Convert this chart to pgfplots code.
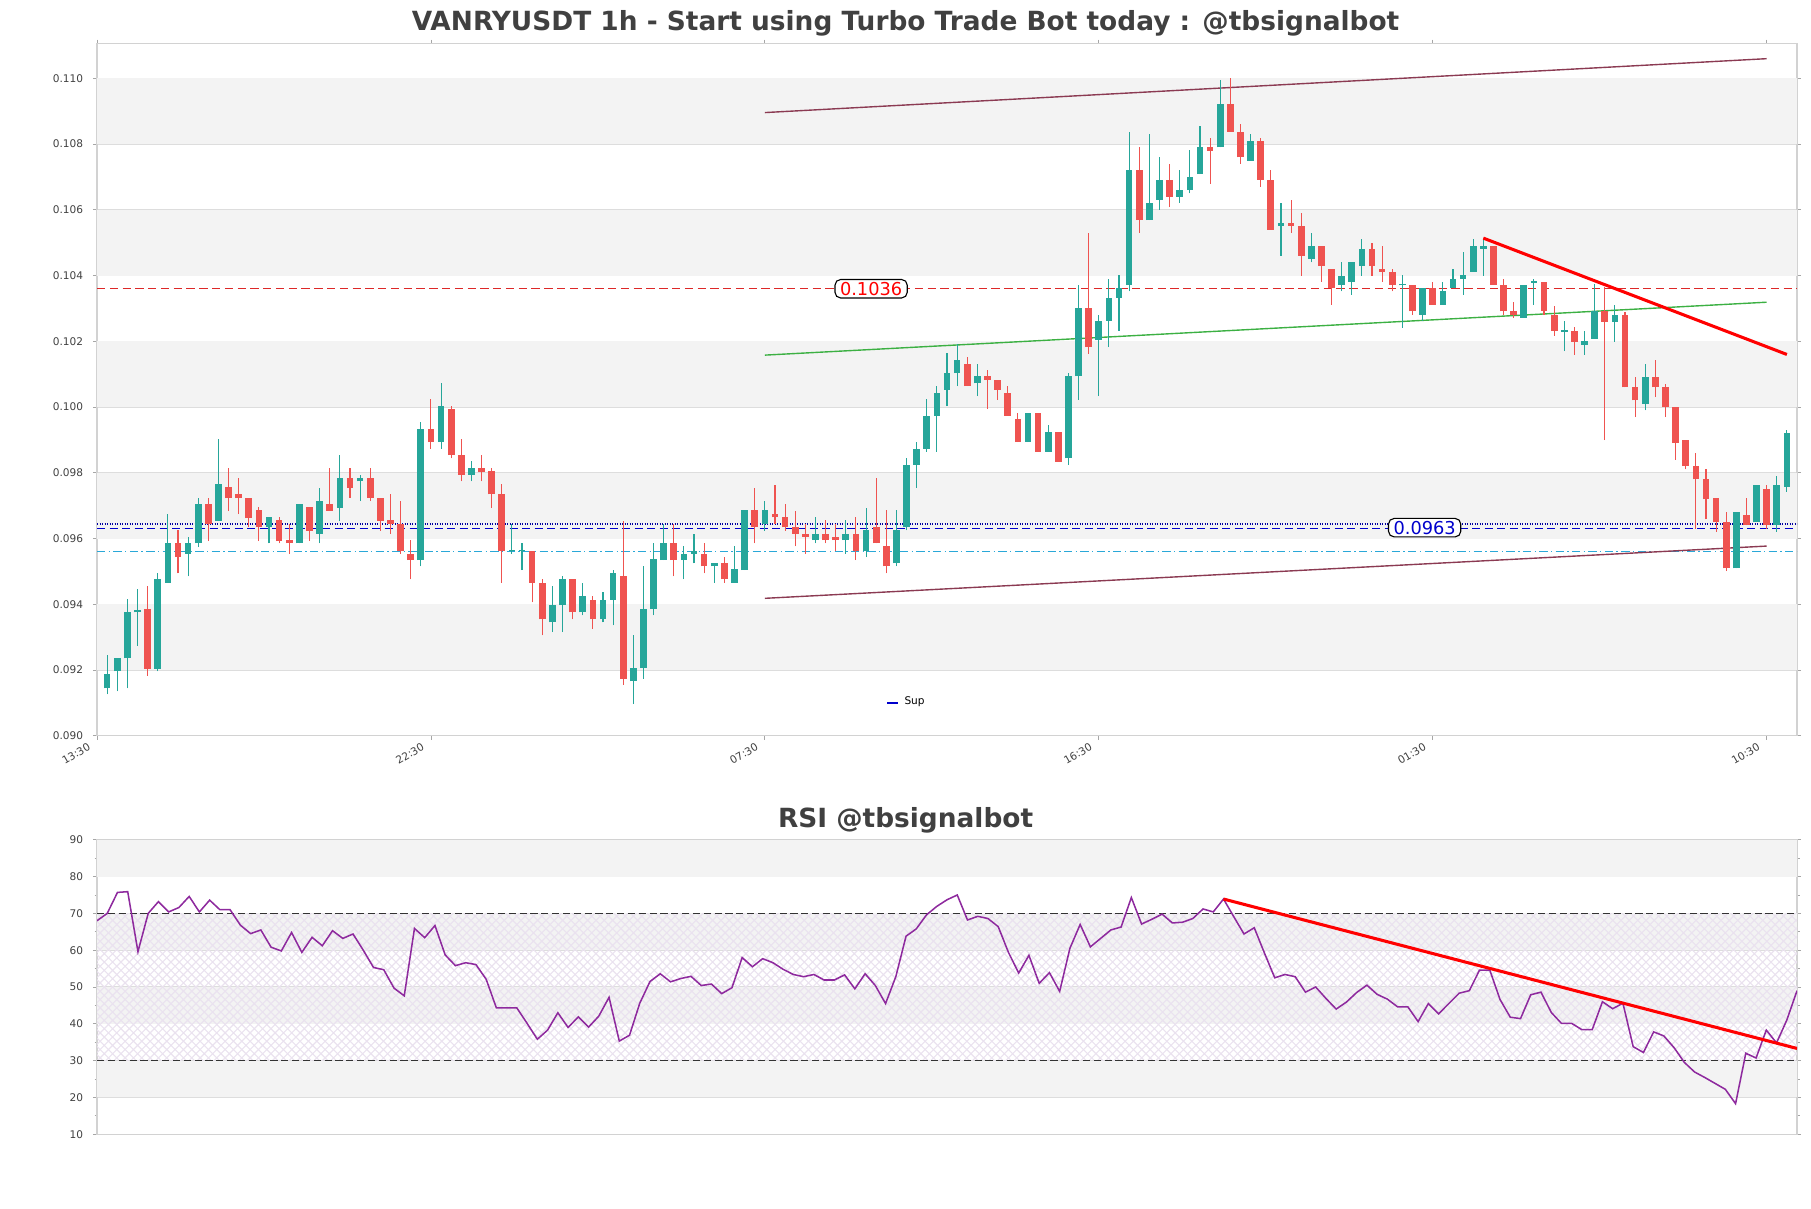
\documentclass[border=0pt]{standalone}
\usepackage{fontspec}
\setmainfont{DejaVu Sans}
\usepackage{pgfplots}
\pgfplotsset{compat=1.18}
\usepackage{pgfplotstable}
\usetikzlibrary{patterns}
\definecolor{cgreen}{HTML}{26A69A}
\definecolor{cred}{HTML}{EF5350}
\definecolor{band}{HTML}{F3F3F3}
\definecolor{gridc}{HTML}{DDDDDD}
\definecolor{titlec}{HTML}{404040}
\definecolor{chan}{HTML}{8B3A52}
\definecolor{gline}{HTML}{3CB043}
\definecolor{rsic}{HTML}{8E2A9E}
\definecolor{hatchc}{HTML}{EAE2EF}
\definecolor{supblue}{HTML}{0000CC}
\definecolor{cyanl}{HTML}{2AA8D8}
\definecolor{hred}{HTML}{DD2828}

\pgfplotstableread{
i O H L C
1 0.09144 0.09245 0.09126 0.09187
2 0.09196 0.09236 0.09135 0.09236
3 0.09235 0.09416 0.09144 0.09375
4 0.09375 0.09446 0.09274 0.09384
6 0.09204 0.09494 0.09196 0.09476
7 0.09465 0.09675 0.09465 0.09586
9 0.09553 0.09605 0.09485 0.09586
10 0.09585 0.09724 0.09574 0.09704
12 0.09653 0.09903 0.09653 0.09766
17 0.09634 0.09664 0.09585 0.09664
20 0.09585 0.09704 0.09585 0.09704
22 0.09614 0.09754 0.09585 0.09715
24 0.09693 0.09854 0.09653 0.09785
26 0.09774 0.09794 0.09714 0.09785
32 0.09534 0.09955 0.09515 0.09934
34 0.09893 0.10072 0.09873 0.10003
37 0.09794 0.09835 0.09774 0.09815
41 0.09563 0.09644 0.09553 0.09566
42 0.09563 0.09586 0.09504 0.09566
45 0.09345 0.09455 0.09315 0.09397
46 0.09397 0.09485 0.09315 0.09476
48 0.09375 0.09465 0.09366 0.09424
50 0.09354 0.09436 0.09345 0.09414
51 0.09414 0.09504 0.09336 0.09494
53 0.09165 0.09305 0.09096 0.09206
54 0.09206 0.09515 0.09174 0.09385
55 0.09385 0.09586 0.09366 0.09537
56 0.09534 0.09644 0.09534 0.09586
58 0.09534 0.09576 0.09476 0.09553
59 0.09553 0.09614 0.09524 0.09563
61 0.09515 0.09524 0.09465 0.09524
63 0.09465 0.09576 0.09465 0.09507
64 0.09504 0.09686 0.09504 0.09686
66 0.09644 0.09714 0.09623 0.09686
71 0.09595 0.09664 0.09585 0.09614
74 0.09595 0.09655 0.09553 0.09614
76 0.09563 0.09693 0.09543 0.09625
79 0.09524 0.09686 0.09515 0.09625
80 0.09634 0.09844 0.09625 0.09824
81 0.09824 0.09894 0.09754 0.09873
82 0.09873 0.10025 0.09864 0.09973
83 0.09973 0.10064 0.09864 0.10042
84 0.10052 0.10165 0.10003 0.10103
85 0.10103 0.10193 0.10064 0.10143
87 0.10072 0.10132 0.10033 0.10094
92 0.09893 0.09983 0.09893 0.09983
94 0.09864 0.09945 0.09864 0.09924
96 0.09844 0.10103 0.09824 0.10094
97 0.10094 0.10372 0.10022 0.10302
99 0.10204 0.10281 0.10033 0.10263
100 0.10263 0.10391 0.10182 0.10333
101 0.10333 0.10402 0.10232 0.10362
102 0.10372 0.10838 0.10352 0.10722
104 0.10569 0.10830 0.10569 0.10621
105 0.10631 0.10760 0.10600 0.10691
107 0.10640 0.10722 0.10621 0.10661
108 0.10661 0.10782 0.10650 0.10700
109 0.10709 0.10854 0.10709 0.10790
111 0.10790 0.10994 0.10790 0.10922
114 0.10750 0.10830 0.10750 0.10810
117 0.10551 0.10621 0.10460 0.10561
120 0.10450 0.10530 0.10440 0.10491
123 0.10372 0.10440 0.10352 0.10400
124 0.10381 0.10440 0.10342 0.10440
125 0.10429 0.10510 0.10400 0.10481
129 0.10370 0.10402 0.10242 0.10374
131 0.10281 0.10362 0.10263 0.10362
133 0.10311 0.10381 0.10311 0.10352
134 0.10362 0.10421 0.10362 0.10391
135 0.10391 0.10472 0.10342 0.10402
136 0.10411 0.10510 0.10411 0.10491
137 0.10481 0.10510 0.10400 0.10491
141 0.10272 0.10372 0.10272 0.10372
142 0.10378 0.10391 0.10311 0.10384
145 0.10228 0.10262 0.10170 0.10234
147 0.10190 0.10231 0.10159 0.10202
148 0.10208 0.10373 0.10208 0.10292
150 0.10260 0.10311 0.10199 0.10281
153 0.10009 0.10131 0.09990 0.10092
162 0.09509 0.09681 0.09509 0.09681
164 0.09650 0.09762 0.09650 0.09762
166 0.09640 0.09790 0.09620 0.09762
167 0.09758 0.09931 0.09742 0.09921
}\greencandles

\pgfplotstableread{
i O H L C
5 0.09385 0.09455 0.09183 0.09204
8 0.09586 0.09625 0.09494 0.09543
11 0.09704 0.09724 0.09592 0.09644
13 0.09756 0.09815 0.09683 0.09723
14 0.09734 0.09785 0.09674 0.09723
15 0.09724 0.09724 0.09634 0.09662
16 0.09686 0.09695 0.09592 0.09634
18 0.09655 0.09664 0.09585 0.09592
19 0.09595 0.09644 0.09553 0.09585
21 0.09695 0.09695 0.09592 0.09623
23 0.09704 0.09815 0.09684 0.09684
25 0.09785 0.09815 0.09724 0.09754
27 0.09785 0.09815 0.09714 0.09724
28 0.09724 0.09724 0.09623 0.09653
29 0.09655 0.09735 0.09614 0.09644
30 0.09644 0.09714 0.09553 0.09563
31 0.09553 0.09595 0.09476 0.09534
33 0.09934 0.10025 0.09873 0.09893
35 0.09994 0.10003 0.09844 0.09854
36 0.09854 0.09903 0.09774 0.09794
38 0.09815 0.09854 0.09774 0.09802
39 0.09805 0.09815 0.09693 0.09734
40 0.09734 0.09766 0.09465 0.09563
43 0.09563 0.09563 0.09406 0.09465
44 0.09465 0.09476 0.09305 0.09354
47 0.09476 0.09476 0.09354 0.09375
49 0.09414 0.09424 0.09326 0.09354
52 0.09485 0.09653 0.09155 0.09174
57 0.09586 0.09644 0.09485 0.09534
60 0.09553 0.09586 0.09494 0.09515
62 0.09524 0.09543 0.09465 0.09476
65 0.09686 0.09754 0.09585 0.09634
67 0.09675 0.09763 0.09644 0.09664
68 0.09664 0.09704 0.09623 0.09634
69 0.09634 0.09684 0.09576 0.09614
70 0.09614 0.09644 0.09553 0.09605
72 0.09614 0.09655 0.09585 0.09595
73 0.09605 0.09644 0.09563 0.09595
75 0.09614 0.09664 0.09534 0.09563
77 0.09634 0.09785 0.09585 0.09585
78 0.09576 0.09686 0.09494 0.09515
86 0.10132 0.10152 0.10064 0.10064
88 0.10094 0.10112 0.09994 0.10083
89 0.10081 0.10081 0.10022 0.10053
90 0.10042 0.10064 0.09973 0.09973
91 0.09963 0.09983 0.09893 0.09893
93 0.09983 0.09983 0.09864 0.09864
95 0.09924 0.09924 0.09833 0.09833
98 0.10302 0.10531 0.10162 0.10182
103 0.10722 0.10790 0.10530 0.10569
106 0.10691 0.10740 0.10610 0.10640
110 0.10790 0.10820 0.10680 0.10780
112 0.10922 0.11000 0.10838 0.10838
113 0.10838 0.10860 0.10740 0.10760
115 0.10810 0.10820 0.10670 0.10691
116 0.10691 0.10720 0.10540 0.10540
118 0.10561 0.10631 0.10530 0.10551
119 0.10551 0.10591 0.10400 0.10460
121 0.10491 0.10491 0.10381 0.10429
122 0.10421 0.10421 0.10311 0.10362
126 0.10481 0.10500 0.10400 0.10429
127 0.10421 0.10491 0.10381 0.10411
128 0.10411 0.10421 0.10352 0.10372
130 0.10372 0.10372 0.10281 0.10291
132 0.10362 0.10381 0.10311 0.10311
138 0.10491 0.10491 0.10372 0.10372
139 0.10372 0.10391 0.10281 0.10291
140 0.10291 0.10321 0.10272 0.10281
143 0.10381 0.10381 0.10281 0.10291
144 0.10281 0.10308 0.10217 0.10231
146 0.10231 0.10244 0.10159 0.10199
149 0.10292 0.10366 0.09899 0.10260
151 0.10281 0.10289 0.10060 0.10060
152 0.10060 0.10092 0.09969 0.10020
154 0.10092 0.10142 0.10030 0.10060
155 0.10060 0.10070 0.09969 0.09999
156 0.09999 0.09999 0.09840 0.09890
157 0.09901 0.09901 0.09810 0.09820
158 0.09820 0.09860 0.09630 0.09780
159 0.09780 0.09810 0.09658 0.09719
160 0.09722 0.09722 0.09620 0.09650
161 0.09650 0.09681 0.09501 0.09509
163 0.09672 0.09722 0.09640 0.09640
165 0.09752 0.09762 0.09630 0.09640
}\redcandles

\pgfplotstableread{
i r
0 68.0
1 70.0
2 75.7
3 75.9
4 59.6
5 70.0
6 73.2
7 70.4
8 71.6
9 74.6
10 70.4
11 73.6
12 71.0
13 71.0
14 66.8
15 64.5
16 65.5
17 60.8
18 59.8
19 64.8
20 59.4
21 63.5
22 61.2
23 65.3
24 63.2
25 64.4
26 60.0
27 55.3
28 54.7
29 49.7
30 47.6
31 65.9
32 63.4
33 66.7
34 58.7
35 55.8
36 56.6
37 56.1
38 52.1
39 44.3
40 44.3
41 44.3
42 40.1
43 35.8
44 38.3
45 43.0
46 39.0
47 41.9
48 39.1
49 42.1
50 47.2
51 35.3
52 36.9
53 45.6
54 51.5
55 53.6
56 51.4
57 52.3
58 52.9
59 50.4
60 50.8
61 48.2
62 49.8
63 58.0
64 55.5
65 57.7
66 56.6
67 54.8
68 53.4
69 52.8
70 53.4
71 51.9
72 51.9
73 53.3
74 49.5
75 53.6
76 50.4
77 45.5
78 52.8
79 63.8
80 65.8
81 69.6
82 71.9
83 73.7
84 75.0
85 68.2
86 69.2
87 68.6
88 66.4
89 59.4
90 53.8
91 58.6
92 51.0
93 53.9
94 48.8
95 60.5
96 67.0
97 60.9
98 63.2
99 65.5
100 66.3
101 74.3
102 67.1
103 68.4
104 69.8
105 67.4
106 67.6
107 68.6
108 71.2
109 70.4
110 73.9
111 69.1
112 64.4
113 66.1
114 59.2
115 52.5
116 53.4
117 52.8
118 48.6
119 50.0
120 46.9
121 44.0
122 45.9
123 48.5
124 50.5
125 48.0
126 46.7
127 44.6
128 44.6
129 40.6
130 45.5
131 42.7
132 45.5
133 48.3
134 49.0
135 54.6
136 54.6
137 46.6
138 41.8
139 41.4
140 47.9
141 48.6
142 43.1
143 40.1
144 40.1
145 38.4
146 38.4
147 46.0
148 44.1
149 45.6
150 33.8
151 32.2
152 37.8
153 36.7
154 33.5
155 29.5
156 26.9
157 25.4
158 23.8
159 22.2
160 18.3
161 32.0
162 30.7
163 38.3
164 34.8
165 41.0
166 49.0
}\rsidata

\newcommand{\tickfont}{\fontsize{3.8}{4.5}\selectfont}

\begin{document}
\begin{tikzpicture}
\useasboundingbox (0,0) rectangle (651.96pt,434.88pt);

\node[font=\fontsize{9.5}{11}\selectfont\bfseries, text=titlec] at (326pt,426.6pt) {VANRYUSDT 1h - Start using Turbo Trade Bot today : @tbsignalbot};
\node[font=\fontsize{9.5}{11}\selectfont\bfseries, text=titlec] at (326pt,139.6pt) {RSI @tbsignalbot};

% ---------------- main candlestick axis ----------------
\begin{axis}[
  at={(34.92pt,170.03pt)}, anchor=south west,
  width=612pt, height=249.05pt, scale only axis,
  xmin=0, xmax=168, ymin=0.090, ymax=0.11105,
  xtick={0,33,66,99,132,165},
  xticklabels={13:30,22:30,07:30,16:30,01:30,10:30},
  ytick={0.090,0.092,0.094,0.096,0.098,0.100,0.102,0.104,0.106,0.108,0.110},
  scaled y ticks=false,
  y tick label style={/pgf/number format/.cd, fixed, fixed zerofill, precision=3, assume math mode=true},
  ticklabel style={font=\tickfont, text=black!75},
  xticklabel style={rotate=30, anchor=east, yshift=-0.5pt},
  tick align=outside, major tick length=1.5pt,
  tick style={draw=gray!70, line width=0.3pt},
  axis line style={draw=gray!35, line width=0.4pt},
  ymajorgrids, grid style={draw=gridc, line width=0.4pt},
  legend style={at={(0.459,0.022)}, anchor=south west, draw=none, fill=none, font=\tickfont},
  legend image code/.code={\draw[#1, solid, line width=0.6pt] (0pt,0pt) -- (4pt,0pt);},
  candle/.style={forget plot, draw=none, no markers, error bars/.cd, y dir=plus, y explicit, error mark=none},
]
\fill[band] (axis cs:0,0.108) rectangle (axis cs:168,0.110);
\fill[band] (axis cs:0,0.104) rectangle (axis cs:168,0.106);
\fill[band] (axis cs:0,0.100) rectangle (axis cs:168,0.102);
\fill[band] (axis cs:0,0.096) rectangle (axis cs:168,0.098);
\fill[band] (axis cs:0,0.092) rectangle (axis cs:168,0.094);

% horizontal levels
\addplot[forget plot, hred, line width=0.5pt, dash pattern=on 3pt off 1.6pt] coordinates {(0,0.1036) (168,0.1036)};
\addplot[forget plot, cyanl, line width=0.45pt, dash pattern=on 3pt off 1.2pt on 0.5pt off 1.2pt] coordinates {(0,0.09561) (168,0.09561)};
\addplot[forget plot, supblue!80!black, line width=0.9pt, dash pattern=on 0.45pt off 0.45pt] coordinates {(0,0.09644) (168,0.09644)};
\addplot[supblue, line width=0.45pt, dash pattern=on 3pt off 1.5pt] coordinates {(0,0.0963) (168,0.0963)};
\addlegendentry{Sup}

% channel
\addplot[forget plot, chan, line width=0.5pt] coordinates {(66,0.10896) (165,0.1106)};
\addplot[forget plot, chan, line width=0.5pt] coordinates {(66,0.09418) (165,0.09577)};
\addplot[forget plot, gline, line width=0.5pt] coordinates {(66,0.10158) (165,0.10319)};

% wicks
\addplot[candle, error bar style={draw=cgreen, line width=0.4pt}]
  table[x=i, y=L, y error plus expr={\thisrow{H}-\thisrow{L}}] {\greencandles};
\addplot[candle, error bar style={draw=cred, line width=0.4pt}]
  table[x=i, y=L, y error plus expr={\thisrow{H}-\thisrow{L}}] {\redcandles};
% bodies
\addplot[candle, error bar style={draw=cgreen, line width=2.4pt}]
  table[x=i, y expr={min(\thisrow{O},\thisrow{C})}, y error plus expr={max(abs(\thisrow{C}-\thisrow{O}),0.00003)}] {\greencandles};
\addplot[candle, error bar style={draw=cred, line width=2.4pt}]
  table[x=i, y expr={min(\thisrow{O},\thisrow{C})}, y error plus expr={max(abs(\thisrow{C}-\thisrow{O}),0.00003)}] {\redcandles};

% red trend line
\addplot[forget plot, red, line width=1.1pt] coordinates {(137,0.10514) (167,0.1016)};

\node[draw=black, line width=0.4pt, fill=white, rounded corners=2pt, inner xsep=1.8pt, inner ysep=0.9pt, text=red, font=\fontsize{6.4}{7}\selectfont] at (axis cs:76.5,0.1036) {0.1036};
\node[draw=black, line width=0.4pt, fill=white, rounded corners=2pt, inner xsep=1.8pt, inner ysep=0.9pt, text=supblue, font=\fontsize{6.4}{7}\selectfont] at (axis cs:131.2,0.09633) {0.0963};
\end{axis}

% ---------------- RSI axis ----------------
\begin{axis}[
  at={(34.92pt,26.57pt)}, anchor=south west,
  width=612pt, height=106pt, scale only axis,
  xmin=0, xmax=166, ymin=10, ymax=90,
  xtick=\empty,
  ytick={10,20,30,40,50,60,70,80,90},
  minor ytick={15,25,35,45,55,65,75,85},
  y tick label style={/pgf/number format/assume math mode=true},
  ticklabel style={font=\tickfont, text=black!75},
  tick align=outside, major tick length=1.5pt, minor tick length=0.9pt,
  tick style={draw=gray!70, line width=0.3pt},
  axis line style={draw=gray!35, line width=0.4pt},
  ymajorgrids, grid style={draw=gridc, line width=0.4pt},
]
\fill[band] (axis cs:0,80) rectangle (axis cs:166,90);
\fill[band] (axis cs:0,60) rectangle (axis cs:166,70);
\fill[band] (axis cs:0,40) rectangle (axis cs:166,50);
\fill[band] (axis cs:0,20) rectangle (axis cs:166,30);
\fill[pattern=crosshatch, pattern color=hatchc] (axis cs:0,30) rectangle (axis cs:166,70);
\addplot[black!80, line width=0.45pt, dash pattern=on 2.6pt off 1.3pt] coordinates {(0,70) (166,70)};
\addplot[black!80, line width=0.45pt, dash pattern=on 2.6pt off 1.3pt] coordinates {(0,30) (166,30)};
\addplot[rsic, line width=0.55pt] table[x=i, y=r] {\rsidata};
\addplot[red, line width=1.1pt] coordinates {(110,73.9) (166,33.3)};
\end{axis}
\end{tikzpicture}
\end{document}
